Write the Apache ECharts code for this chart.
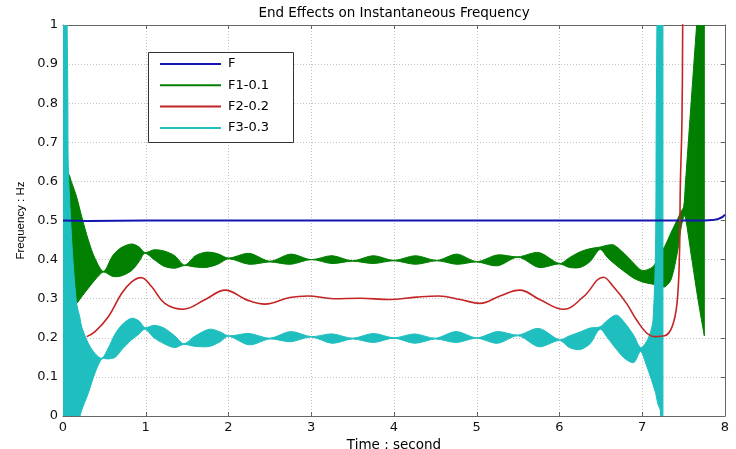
<!DOCTYPE html>
<html>
<head>
<meta charset="utf-8">
<script src="https://cdn.jsdelivr.net/npm/echarts@6/dist/echarts.min.js"></script>
<style>html,body{margin:0;padding:0;background:#fff}#c{width:736px;height:449px}</style>
</head>
<body>
<div id="c"></div>
<script>
// ---------- data ----------
const xTicks = [0, 1, 2, 3, 4, 5, 6, 7, 8];
const yTicks = [0, 0.1, 0.2, 0.3, 0.4, 0.5, 0.6, 0.7, 0.8, 0.9, 1];

// F (blue line)
const F_x = [0, 0.3, 1, 2, 3, 4, 5, 6, 7, 7.75, 7.85, 7.92, 7.97, 8.0];
const F_y = [0.5, 0.499, 0.5, 0.5, 0.5, 0.5, 0.5, 0.5, 0.5, 0.5, 0.501, 0.504, 0.509, 0.515];

// F1-0.1 (green band: lower / upper envelope)
const F1_x = [0, 0.064, 0.10, 0.165, 0.226, 0.306, 0.387, 0.49,
  0.6, 0.7, 0.83, 0.92, 0.99,
  1.1, 1.22, 1.35, 1.47,
  1.6, 1.73, 1.87, 2.0,
  2.25, 2.5, 2.75, 3.0, 3.25, 3.5, 3.75, 4.0, 4.26, 4.52, 4.76, 5.0, 5.25, 5.5, 5.75, 6.0,
  6.12, 6.25, 6.37, 6.49,
  6.58, 6.66, 6.78, 6.9, 7.0,
  7.13, 7.2, 7.27, 7.35, 7.43, 7.46, 7.5,
  7.52, 7.6, 7.68, 7.75];
const F1_upper = [0.62, 0.62, 0.60, 0.56, 0.51, 0.45, 0.403, 0.37,
  0.41, 0.43, 0.44, 0.432, 0.418,
  0.425, 0.422, 0.41, 0.386,
  0.41, 0.419, 0.415, 0.404,
  0.416, 0.396, 0.414, 0.40, 0.41, 0.397, 0.41, 0.398, 0.41, 0.398, 0.414, 0.395, 0.412, 0.407, 0.418, 0.39,
  0.405, 0.42, 0.428, 0.432,
  0.437, 0.437, 0.416, 0.39, 0.372,
  0.382, 0.41, 0.433, 0.47, 0.505, 0.52, 0.535,
  0.59, 0.83, 1.07, 1.3];
const F1_lower = [0.28, 0.28, 0.28, 0.288, 0.305, 0.327, 0.348, 0.368,
  0.357, 0.358, 0.372, 0.395, 0.416,
  0.40, 0.383, 0.378, 0.385,
  0.381, 0.38, 0.388, 0.402,
  0.388, 0.394, 0.388, 0.40, 0.39, 0.396, 0.39, 0.397, 0.388, 0.397, 0.388, 0.394, 0.384, 0.406, 0.38, 0.389,
  0.38, 0.38, 0.395, 0.426,
  0.405, 0.39, 0.37, 0.352, 0.343,
  0.337, 0.334, 0.33, 0.35, 0.425, 0.47, 0.51,
  0.51, 0.40, 0.29, 0.205];

// F2-0.2 (red line)
const F2_x = [0.286, 0.387, 0.548, 0.71, 0.83, 0.943, 1.07, 1.23, 1.45, 1.72, 1.96, 2.22, 2.44, 2.74, 2.96,
  3.27, 3.59, 3.95, 4.27, 4.54, 4.8, 5.04, 5.28, 5.52, 5.76, 6.05, 6.29, 6.53, 6.65, 6.81, 6.93, 7.05,
  7.15, 7.27, 7.36, 7.42, 7.45, 7.46, 7.48, 7.49];
const F2_y = [0.203, 0.216, 0.254, 0.314, 0.343, 0.354, 0.331, 0.288, 0.273, 0.298, 0.322, 0.297, 0.286, 0.303, 0.307,
  0.300, 0.301, 0.298, 0.304, 0.307, 0.298, 0.288, 0.307, 0.322, 0.298, 0.273, 0.305, 0.355, 0.331, 0.288, 0.246, 0.213,
  0.203, 0.205, 0.228, 0.288, 0.416, 0.587, 0.757, 1.05];

// F3-0.3 (cyan band: lower / upper envelope)
const F3_x = [0, 0.04, 0.05, 0.058, 0.064, 0.1, 0.13, 0.165, 0.206, 0.226,
  0.306, 0.387, 0.47, 0.55, 0.63, 0.72, 0.83, 0.92, 0.99, 1.1,
  1.22, 1.35, 1.46, 1.6, 1.77, 1.9, 2.0, 2.25, 2.5, 2.75,
  3.0, 3.25, 3.5, 3.75, 4.0, 4.25, 4.5, 4.75, 5.0, 5.25,
  5.5, 5.75, 6.0, 6.12, 6.25, 6.37, 6.49, 6.58, 6.69, 6.8,
  6.9, 6.98, 7.05, 7.1, 7.13, 7.16, 7.17, 7.19, 7.22, 7.25];
const F3_upper = [1.3, 1.2, 1.0, 0.82, 0.64, 0.47, 0.37, 0.288, 0.25, 0.228,
  0.186, 0.16, 0.148, 0.175, 0.21, 0.235, 0.25, 0.243, 0.226, 0.232,
  0.225, 0.205, 0.185, 0.205, 0.222, 0.215, 0.205, 0.211, 0.199, 0.216,
  0.203, 0.21, 0.199, 0.211, 0.2, 0.21, 0.199, 0.216, 0.2, 0.216,
  0.207, 0.224, 0.195, 0.205, 0.215, 0.225, 0.228, 0.245, 0.258, 0.235,
  0.205, 0.175, 0.19, 0.215, 0.245, 0.42, 0.8, 1.2, 1.3, 1.3];
const F3_lower = [-0.5, -0.35, -0.3, -0.28, -0.26, -0.18, -0.11, -0.05, 0, 0.015,
  0.059, 0.11, 0.146, 0.146, 0.15, 0.172, 0.195, 0.21, 0.222, 0.2,
  0.185, 0.175, 0.183, 0.178, 0.178, 0.19, 0.204, 0.182, 0.197, 0.19,
  0.202, 0.186, 0.197, 0.188, 0.199, 0.186, 0.197, 0.188, 0.199, 0.186,
  0.205, 0.177, 0.193, 0.175, 0.17, 0.185, 0.222, 0.2, 0.17, 0.145,
  0.137, 0.165, 0.13, 0.1, 0.08, 0.06, 0.05, 0.03, 0.012, -0.3];

// ---------- styles ----------
const BLUE = '#1414b0', GREEN = '#007f00', RED = '#c42424', CYAN = '#1fbfbf';
const FONT = 'DejaVu Sans';

function pairs(xs, ys) { return xs.map((x, i) => [x, ys[i]]); }

function bandSeries(name, color, xs, lo, hi) {
  return {
    type: 'custom', name: name, coordinateSystem: 'cartesian2d', clip: true, silent: true,
    itemStyle: { color: color },
    data: [[xs[0], lo[0]]],
    renderItem: function (params, api) {
      const top = xs.map((x, i) => api.coord([x, hi[i]]));
      const bot = xs.map((x, i) => api.coord([x, lo[i]])).reverse();
      const n = top.length;
      // duplicated corner points keep the band ends straight while edges are smoothed
      const pts = [top[0].slice()].concat(top.slice(1), [top[n - 1].slice()], [bot[0]], [bot[0].slice()],
        bot.slice(1), [bot[n - 1].slice()], [top[0].slice()]);
      return {
        type: 'polygon',
        shape: { points: pts, smooth: 0.3 },
        style: { fill: color, stroke: color, lineWidth: 1 }
      };
    }
  };
}

const chart = echarts.init(document.getElementById('c'), null, { renderer: 'canvas' });
const axisCol = '#666';
const gridLine = { show: true, lineStyle: { color: '#c4c4c4', width: 1, type: [1, 2] } };

chart.setOption({
  animation: false,
  backgroundColor: '#fff',
  title: {
    text: 'End Effects on Instantaneous Frequency',
    left: 394, top: 6, padding: 0, textAlign: 'center',
    textStyle: { fontFamily: FONT, fontSize: 13.5, fontWeight: 'normal', color: '#000' }
  },
  grid: { left: 63, right: 11, top: 25, bottom: 33, containLabel: false, outerBoundsMode: 'none' },
  xAxis: [{
    type: 'value', min: xTicks[0], max: xTicks[xTicks.length - 1], interval: 1,
    name: 'Time : second', nameLocation: 'middle', nameGap: 17,
    nameTextStyle: { fontFamily: FONT, fontSize: 13.5, color: '#000' },
    axisLine: { show: true, onZero: false, lineStyle: { color: axisCol, width: 1 } },
    axisTick: { show: true, inside: true, length: 4, lineStyle: { color: axisCol } },
    axisLabel: { fontFamily: FONT, fontSize: 13, color: '#111', margin: 5 },
    splitLine: gridLine
  }, {
    type: 'value', position: 'top', min: xTicks[0], max: xTicks[xTicks.length - 1], interval: 1,
    axisLine: { show: true, onZero: false, lineStyle: { color: axisCol, width: 1 } },
    axisTick: { show: true, inside: true, length: 4, lineStyle: { color: axisCol } },
    axisLabel: { show: false }, splitLine: { show: false }
  }],
  yAxis: [{
    type: 'value', min: yTicks[0], max: yTicks[yTicks.length - 1], interval: 0.1,
    name: 'Frequency : Hz', nameLocation: 'middle', nameGap: 31,
    nameTextStyle: { fontFamily: 'Liberation Sans', fontSize: 11.5, color: '#000' },
    axisLine: { show: true, onZero: false, lineStyle: { color: axisCol, width: 1 } },
    axisTick: { show: true, inside: true, length: 4, lineStyle: { color: axisCol } },
    axisLabel: { fontFamily: FONT, fontSize: 13, color: '#111', margin: 5 },
    splitLine: gridLine
  }, {
    type: 'value', position: 'right', min: yTicks[0], max: yTicks[yTicks.length - 1], interval: 0.1,
    axisLine: { show: true, onZero: false, lineStyle: { color: axisCol, width: 1 } },
    axisTick: { show: true, inside: true, length: 4, lineStyle: { color: axisCol } },
    axisLabel: { show: false }, splitLine: { show: false }
  }],
  legend: {
    orient: 'vertical', left: 160, top: 56, padding: 0, z: 10,
    itemWidth: 61, itemHeight: 2, itemGap: 5.3, icon: 'rect', selectedMode: false,
    textStyle: { fontFamily: FONT, fontSize: 13, lineHeight: 16, color: '#000', padding: [0, 0, 0, 2] },
    data: [
      { name: 'F', itemStyle: { color: BLUE } },
      { name: 'F1-0.1', itemStyle: { color: GREEN } },
      { name: 'F2-0.2', itemStyle: { color: RED } },
      { name: 'F3-0.3', itemStyle: { color: CYAN } }
    ]
  },
  graphic: [{
    type: 'rect', z: 9, silent: true,
    shape: { x: 148.5, y: 52.5, width: 145, height: 90 },
    style: { fill: '#fff', stroke: '#333', lineWidth: 1 }
  }],
  series: [
    { type: 'line', name: 'F', data: pairs(F_x, F_y), symbol: 'none', silent: true,
      lineStyle: { color: BLUE, width: 2 }, itemStyle: { color: BLUE } },
    bandSeries('F1-0.1', GREEN, F1_x, F1_lower, F1_upper),
    { type: 'line', name: 'F2-0.2', data: pairs(F2_x, F2_y), symbol: 'none', smooth: 0.4, silent: true,
      lineStyle: { color: RED, width: 1.6 }, itemStyle: { color: RED } },
    bandSeries('F3-0.3', CYAN, F3_x, F3_lower, F3_upper)
  ]
});
</script>
</body>
</html>
